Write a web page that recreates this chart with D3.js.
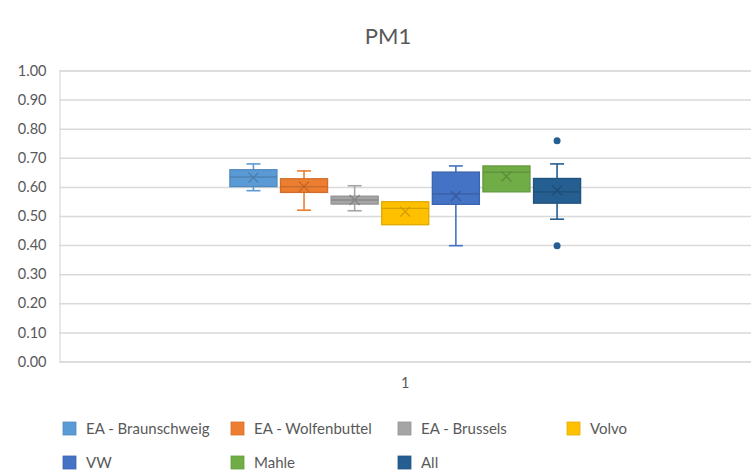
<!DOCTYPE html>
<html>
<head>
<meta charset="utf-8">
<script src="https://cdn.jsdelivr.net/npm/d3@7/dist/d3.min.js"></script>
<style>
  html, body { margin: 0; padding: 0; background: #ffffff; }
  svg { display: block; }
  text { font-family: Lato, "Open Sans", sans-serif; fill: #595959; }
</style>
</head>
<body>
<svg id="chart" width="751" height="471"></svg>
<script>
// Series names and box-plot statistics for PM1
const seriesNames = ["EA - Braunschweig", "EA - Wolfenbuttel", "EA - Brussels", "Volvo", "VW", "Mahle", "All"];
const seriesColors = ["#5B9BD5", "#ED7D31", "#A5A5A5", "#FFC000", "#4472C4", "#70AD47", "#255E91"];
const categories = ["1"];
const whiskerLow  = [0.587, 0.520, 0.518, 0.470, 0.398, 0.583, 0.489];
const q1          = [0.601, 0.581, 0.541, 0.470, 0.540, 0.583, 0.544];
const median      = [0.634, 0.601, 0.555, 0.526, 0.576, 0.651, 0.583];
const q3          = [0.659, 0.628, 0.568, 0.549, 0.651, 0.672, 0.629];
const whiskerHigh = [0.679, 0.655, 0.604, 0.549, 0.672, 0.672, 0.679];
const means       = [0.632, 0.601, 0.555, 0.515, 0.569, 0.636, 0.588];
const outliers    = [[], [], [], [], [], [], [0.759, 0.398]];
const yTicks = [0, 0.1, 0.2, 0.3, 0.4, 0.5, 0.6, 0.7, 0.8, 0.9, 1.0];

const svg = d3.select("#chart");
const plot = { left: 59.5, right: 751, top: 70.5, bottom: 361.5 };

const y = d3.scaleLinear().domain([0, 1]).range([plot.bottom, plot.top]);
const x0 = d3.scaleBand().domain(categories).range([plot.left, plot.right])
  .paddingInner(0).paddingOuter(0.476);
const x1 = d3.scaleBand().domain(seriesNames).range([0, x0.bandwidth()])
  .paddingInner(0.07).paddingOuter(0.035);

// Title
svg.append("text")
  .attr("x", 388).attr("y", 44)
  .attr("text-anchor", "middle")
  .style("font-size", "22px")
  .text("PM1");

// Gridlines and value axis
const yAxis = d3.axisLeft(y).tickValues(yTicks)
  .tickSize(-(plot.right - plot.left)).tickPadding(13)
  .tickFormat(d3.format(".2f"));
const gy = svg.append("g").attr("transform", `translate(${plot.left},0)`).call(yAxis);
gy.select(".domain").attr("stroke", "#d9d9d9").attr("stroke-width", 1.2);
gy.selectAll(".tick line").attr("stroke", "#d9d9d9").attr("stroke-width", 1.5);
gy.selectAll(".tick text")
  .style("font-size", "14.5px").style("font-family", "Lato, sans-serif")
  .attr("fill", "#595959");

// Category axis label
const xAxis = d3.axisBottom(x0).tickSize(0).tickPadding(16);
const gx = svg.append("g").attr("transform", `translate(0,${plot.bottom})`).call(xAxis);
gx.select(".domain").remove();
gx.selectAll(".tick text")
  .style("font-size", "14.5px").style("font-family", "Lato, sans-serif")
  .attr("fill", "#595959");

// Boxes
const rows = seriesNames.map((name, i) => ({
  name, color: seriesColors[i],
  lo: whiskerLow[i], q1: q1[i], med: median[i], q3: q3[i], hi: whiskerHigh[i],
  mean: means[i], out: outliers[i]
}));

const boxes = svg.append("g").selectAll("g.box").data(rows).join("g")
  .attr("class", "box")
  .attr("transform", d => `translate(${x0("1") + x1(d.name)},0)`);

const bw = x1.bandwidth();
const capW = 14;

// whiskers
boxes.each(function (d) {
  const g = d3.select(this);
  const cx = bw / 2;
  const stroke = d.color;
  if (d.hi > d.q3) {
    g.append("line").attr("x1", cx).attr("x2", cx).attr("y1", y(d.q3)).attr("y2", y(d.hi))
      .attr("stroke", stroke).attr("stroke-width", 1.6);
    g.append("line").attr("x1", cx - capW / 2).attr("x2", cx + capW / 2).attr("y1", y(d.hi)).attr("y2", y(d.hi))
      .attr("stroke", stroke).attr("stroke-width", 1.6);
  }
  if (d.lo < d.q1) {
    g.append("line").attr("x1", cx).attr("x2", cx).attr("y1", y(d.q1)).attr("y2", y(d.lo))
      .attr("stroke", stroke).attr("stroke-width", 1.6);
    g.append("line").attr("x1", cx - capW / 2).attr("x2", cx + capW / 2).attr("y1", y(d.lo)).attr("y2", y(d.lo))
      .attr("stroke", stroke).attr("stroke-width", 1.6);
  }
});

boxes.append("rect")
  .attr("x", 0).attr("width", bw)
  .attr("y", d => y(d.q3)).attr("height", d => y(d.q1) - y(d.q3))
  .attr("fill", d => d.color)
  .attr("stroke", d => d3.color(d.color).darker(0.35))
  .attr("stroke-width", 1.3);

boxes.append("line")
  .attr("x1", 0).attr("x2", bw)
  .attr("y1", d => y(d.med)).attr("y2", d => y(d.med))
  .attr("stroke", d => d3.color(d.color).darker(0.5))
  .attr("stroke-width", 1.3);

// mean markers
const m = 5;
boxes.append("path")
  .attr("d", d => {
    const cx = bw / 2, cy = y(d.mean);
    return `M${cx - m},${cy - m}L${cx + m},${cy + m}M${cx - m},${cy + m}L${cx + m},${cy - m}`;
  })
  .attr("stroke", d => d3.color(d.color).darker(0.6))
  .attr("stroke-width", 1.3)
  .attr("fill", "none");

// outliers
boxes.selectAll("circle").data(d => d.out.map(v => ({ v, color: d.color }))).join("circle")
  .attr("cx", bw / 2).attr("cy", d => y(d.v)).attr("r", 3.5)
  .attr("fill", d => d.color);

// Legend
const legendCols = [63, 231, 398, 567];
const legendRows = [422, 456];
const legend = svg.append("g").selectAll("g").data(rows).join("g")
  .attr("transform", (d, i) => `translate(${legendCols[i % 4]},${legendRows[Math.floor(i / 4)]})`);
legend.append("rect")
  .attr("width", 13).attr("height", 13)
  .attr("fill", d => d.color)
  .attr("stroke", d => d3.color(d.color).darker(0.3)).attr("stroke-width", 0.8);
legend.append("text")
  .attr("x", 23).attr("y", 12)
  .style("font-size", "15px")
  .text(d => d.name);
</script>
</body>
</html>
